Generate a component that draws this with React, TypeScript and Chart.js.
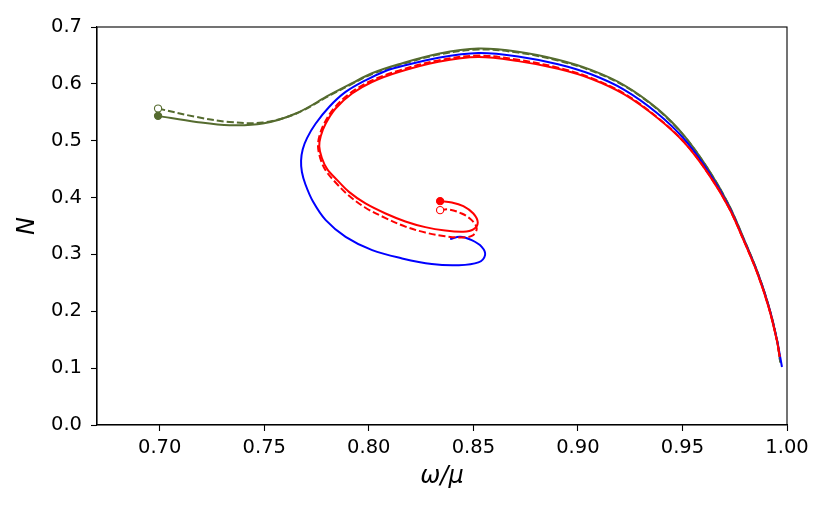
import React, { useRef, useEffect } from 'react';
import { Chart, registerables } from 'chart.js';

Chart.register(...registerables);

// ---- data ----

const xTicks = [0.7, 0.75, 0.8, 0.85, 0.9, 0.95, 1.0];
const yTicks = [0.0, 0.1, 0.2, 0.3, 0.4, 0.5, 0.6, 0.7];

// green, solid (filled marker at start)
const greenSolidX = [0.6992, 0.7175, 0.7334, 0.7493, 0.7651, 0.7810, 0.7920, 0.8015, 0.8143, 0.8333, 0.8524, 0.8714, 0.8905, 0.9063, 0.9222, 0.9381, 0.9508, 0.9627, 0.9722, 0.9794, 0.9860, 0.9913, 0.9952, 0.9968];
const greenSolidY = [0.5437, 0.5331, 0.5272, 0.5302, 0.5478, 0.5800, 0.6011, 0.6187, 0.6345, 0.6530, 0.6620, 0.6565, 0.6425, 0.6245, 0.5975, 0.5560, 0.5090, 0.4480, 0.3870, 0.3270, 0.2680, 0.2090, 0.1500, 0.1100];

// green, dashed (open marker at start)
const greenDashX = [0.6992, 0.7175, 0.7333, 0.7492, 0.7651, 0.7810, 0.7920, 0.8015, 0.8143, 0.8333, 0.8524, 0.8714, 0.8905, 0.9063, 0.9222, 0.9381, 0.9508, 0.9627, 0.9722, 0.9794, 0.9860, 0.9913, 0.9952, 0.9968];
const greenDashY = [0.5566, 0.5418, 0.5330, 0.5320, 0.5475, 0.5790, 0.6000, 0.6172, 0.6330, 0.6514, 0.6604, 0.6550, 0.6410, 0.6232, 0.5963, 0.5550, 0.5082, 0.4474, 0.3866, 0.3266, 0.2676, 0.2086, 0.1496, 0.1100];

// blue, solid (from the end at omega ~ 1 to the spiral end)
const blueX = [0.9976, 0.9952, 0.9913, 0.9860, 0.9794, 0.9722, 0.9627, 0.9508, 0.9381, 0.9222, 0.9063, 0.8905, 0.8714, 0.8524, 0.8333, 0.8143, 0.8080, 0.7984, 0.7889, 0.7810, 0.7746, 0.7705, 0.7684, 0.7676, 0.7680, 0.7697, 0.7733, 0.7794, 0.7889, 0.8016, 0.8159, 0.8301, 0.8429, 0.8524, 0.8556, 0.8540, 0.8492, 0.8437, 0.8389];
const blueY = [0.1020, 0.1494, 0.2079, 0.2666, 0.3251, 0.3845, 0.4440, 0.5030, 0.5480, 0.5895, 0.6168, 0.6345, 0.6483, 0.6543, 0.6460, 0.6297, 0.6227, 0.6063, 0.5858, 0.5594, 0.5302, 0.5050, 0.4850, 0.4650, 0.4450, 0.4230, 0.3930, 0.3603, 0.3310, 0.3076, 0.2930, 0.2830, 0.2810, 0.2860, 0.2988, 0.3134, 0.3251, 0.3309, 0.3269];

// red, solid (filled marker at start)
const redSolidX = [0.8341, 0.8397, 0.8452, 0.8500, 0.8521, 0.8500, 0.8452, 0.8365, 0.8270, 0.8175, 0.8080, 0.7984, 0.7905, 0.7849, 0.7801, 0.7775, 0.7763, 0.7770, 0.7794, 0.7841, 0.7920, 0.8015, 0.8143, 0.8333, 0.8524, 0.8714, 0.8905, 0.9063, 0.9222, 0.9381, 0.9508, 0.9627, 0.9722, 0.9794, 0.9860, 0.9913, 0.9952, 0.9965];
const redSolidY = [0.3937, 0.3915, 0.3850, 0.3720, 0.3560, 0.3440, 0.3400, 0.3420, 0.3480, 0.3580, 0.3720, 0.3896, 0.4100, 0.4306, 0.4500, 0.4700, 0.4900, 0.5080, 0.5302, 0.5566, 0.5830, 0.6033, 0.6209, 0.6390, 0.6473, 0.6400, 0.6265, 0.6090, 0.5815, 0.5400, 0.4970, 0.4400, 0.3820, 0.3235, 0.2650, 0.2060, 0.1480, 0.1200];

// red, dashed (open marker at start)
const redDashX = [0.8341, 0.8381, 0.8444, 0.8492, 0.8516, 0.8495, 0.8440, 0.8365, 0.8270, 0.8175, 0.8080, 0.7980, 0.7900, 0.7840, 0.7793, 0.7768, 0.7757, 0.7764, 0.7788, 0.7836, 0.7916, 0.8012, 0.8143, 0.8333, 0.8524, 0.8714, 0.8905, 0.9063, 0.9222, 0.9381, 0.9508, 0.9627, 0.9722, 0.9794, 0.9860, 0.9913, 0.9952, 0.9965];
const redDashY = [0.3779, 0.3791, 0.3720, 0.3603, 0.3456, 0.3330, 0.3298, 0.3320, 0.3385, 0.3490, 0.3640, 0.3830, 0.4050, 0.4270, 0.4480, 0.4690, 0.4900, 0.5085, 0.5312, 0.5582, 0.5850, 0.6055, 0.6233, 0.6413, 0.6497, 0.6423, 0.6285, 0.6105, 0.5828, 0.5408, 0.4975, 0.4403, 0.3822, 0.3237, 0.2652, 0.2062, 0.1482, 0.1200];

const GREEN = '#556b2f';
const BLUE = '#0000ff';
const RED = '#ff0000';
const FONT = 'DejaVu Sans';

const pts = (xs: number[], ys: number[]) => xs.map((x, i) => ({ x, y: ys[i] }));

const framePlugin = {
  id: 'frame',
  afterDatasetsDraw(chart: any) {
    const { ctx, chartArea: a } = chart;
    ctx.save();
    ctx.strokeStyle = '#000';
    ctx.lineWidth = 1.1;
    ctx.strokeRect(a.left, a.top, a.right - a.left, a.bottom - a.top);
    ctx.restore();
  }
};

const line = (xs: number[], ys: number[], color: string, dashed: boolean, marker: 'filled' | 'open' | 'none') => ({
  data: pts(xs, ys),
  showLine: true,
  borderColor: color,
  borderWidth: 2,
  borderDash: dashed ? [7, 3] : [],
  tension: 0.35,
  pointRadius: (c: any) => (marker !== 'none' && c.dataIndex === 0 ? 3.6 : 0),
  pointBackgroundColor: marker === 'open' ? '#ffffff' : color,
  pointBorderColor: color,
  pointBorderWidth: 1.1,
  pointHoverRadius: 0,
});

const App: React.FC = () => {
  const canvasRef = useRef<HTMLCanvasElement>(null);

  useEffect(() => {
    if (!canvasRef.current) return;
    const chart = new Chart(canvasRef.current, {
      type: 'scatter',
      data: {
        datasets: [
          line(redSolidX, redSolidY, RED, false, 'filled'),
          line(redDashX, redDashY, RED, true, 'open'),
          line(blueX, blueY, BLUE, false, 'none'),
          line(greenSolidX, greenSolidY, GREEN, false, 'filled'),
          line(greenDashX, greenDashY, GREEN, true, 'open'),
        ] as any
      },
      options: {
        responsive: false,
        animation: false,
        layout: { padding: { top: 27, right: 43, left: 0, bottom: 0 } },
        plugins: {
          legend: { display: false },
          tooltip: { enabled: false }
        },
        scales: {
          x: {
            type: 'linear',
            min: 0.67,
            max: 1.0,
            afterBuildTicks: (s: any) => { s.ticks = xTicks.map(v => ({ value: v })); },
            afterFit: (s: any) => { s.height = 86; },
            ticks: {
              callback: (v: any) => Number(v).toFixed(2),
              font: { family: FONT, size: 19.5 },
              color: '#000',
              padding: 5,
              maxRotation: 0,
              autoSkip: false
            },
            grid: { drawOnChartArea: false, tickLength: 6, tickWidth: 1.1, tickColor: '#000' },
            border: { color: '#000', width: 1.1 },
            title: {
              display: true,
              text: 'ω/μ',
              color: '#000',
              font: { family: FONT, size: 24, style: 'italic' },
              padding: { top: 0, bottom: 20 }
            }
          },
          y: {
            type: 'linear',
            min: 0,
            max: 0.7,
            afterBuildTicks: (s: any) => { s.ticks = yTicks.map(v => ({ value: v })); },
            afterFit: (s: any) => { s.width = 97; },
            ticks: {
              callback: (v: any) => Number(v).toFixed(1),
              font: { family: FONT, size: 19.5 },
              color: '#000',
              padding: 9,
              autoSkip: false
            },
            grid: { drawOnChartArea: false, tickLength: 6, tickWidth: 1.1, tickColor: '#000' },
            border: { color: '#000', width: 1.1 },
            title: {
              display: true,
              text: 'N',
              color: '#000',
              font: { family: FONT, size: 24, style: 'italic' },
              padding: { top: 13, bottom: 0 }
            }
          }
        }
      },
      plugins: [framePlugin]
    });
    return () => chart.destroy();
  }, []);

  return (
    <div style={{ position: 'absolute', left: 0, top: 0, width: 830, height: 511, background: '#fff' }}>
      <canvas ref={canvasRef} width={830} height={511} />
    </div>
  );
};

export default App;
